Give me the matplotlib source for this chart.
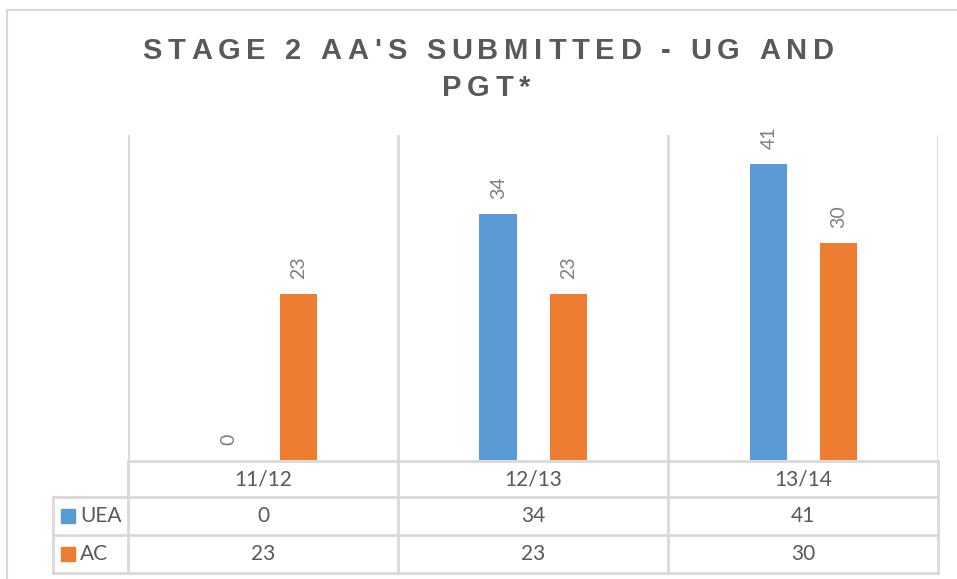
import matplotlib.pyplot as plt
from matplotlib.patches import Rectangle
from matplotlib.font_manager import FontProperties

# data
categories = ["11/12", "12/13", "13/14"]
series = ["UEA", "AC"]
uea = [0, 34, 41]
ac = [23, 23, 30]
title_lines = ["STAGE 2 AA'S SUBMITTED - UG AND", "PGT*"]

colors = {"UEA": "#5B9BD5", "AC": "#ED7D31"}
grid_col = "#D9D9D9"
txt_col = "#595959"
lab_col = "#7F7F7F"

W, H = 957, 579
fig = plt.figure(figsize=(W / 100, H / 100), dpi=100)

# overlay in pixel coords (y down) for frame, title and table
ov = fig.add_axes([0, 0, 1, 1])
ov.set_xlim(0, W)
ov.set_ylim(H, 0)
ov.axis("off")

# chart frame
ov.plot([7, 7, W + 5], [H + 5, 10, 10], color=grid_col, lw=1.5)

# main plot area
left, right, base, top = 128, 938, 460, 135
ax = fig.add_axes([left / W, (H - base) / H, (right - left) / W, (base - top) / H])
ax.set_xlim(-0.5, len(categories) - 0.5)
ax.set_ylim(0, 45)
ax.axis("off")

x = list(range(len(categories)))
bw = 37 / 270
off = 35 / 270
for vals, name, d in [(uea, "UEA", -off), (ac, "AC", off)]:
    xs = [i + d for i in x]
    ax.bar(xs, vals, width=bw, color=colors[name], zorder=3)
    for xi, v in zip(xs, vals):
        ax.annotate(str(v), (xi, v), xytext=(1, 15), textcoords="offset pixels",
                    rotation=90, ha="center", va="bottom", color=lab_col,
                    fontsize=14, family="Lato")

for b in [i - 0.5 for i in range(len(categories) + 1)]:
    ax.axvline(b, color=grid_col, lw=2, zorder=1)

# data table
rows_y = [461, 497, 535, 573]
ov.plot([left, right], [rows_y[0]] * 2, color=grid_col, lw=2)
for yy in rows_y[1:]:
    ov.plot([53, right], [yy, yy], color=grid_col, lw=2)
ov.plot([53, 53], [rows_y[1], rows_y[3]], color=grid_col, lw=2)
cw = (right - left) / len(categories)
for i in range(len(categories) + 1):
    xx = left + i * cw
    ov.plot([xx, xx], [rows_y[0], rows_y[3]], color=grid_col, lw=2)

fs = 15
for i, c in enumerate(categories):
    cx = left + (i + 0.5) * cw
    ov.text(cx, 479, c, ha="center", va="center", color=txt_col, fontsize=fs, family="Lato")
    ov.text(cx, 516, str(uea[i]), ha="center", va="center", color=txt_col, fontsize=fs, family="Lato")
    ov.text(cx, 554, str(ac[i]), ha="center", va="center", color=txt_col, fontsize=fs, family="Lato")

for name, cy in zip(series, [516, 554]):
    ov.add_patch(Rectangle((61, cy - 7), 14, 14, color=colors[name]))
    ov.text(80, cy, name, ha="left", va="center", color=txt_col, fontsize=fs, family="Lato")

# title with letter spacing
renderer = fig.canvas.get_renderer()
tprop = FontProperties(family="Liberation Sans", weight="bold", size=21)
track = 5.7


def spaced(s, cx, cy):
    widths = [renderer.get_text_width_height_descent(ch, tprop, ismath=False)[0] for ch in s]
    total = sum(widths) + track * (len(s) - 1)
    xx = cx - total / 2
    for ch, w in zip(s, widths):
        ov.text(xx, cy, ch, ha="left", va="center", color=txt_col, fontproperties=tprop)
        xx += w + track


spaced(title_lines[0], 488, 51)
spaced(title_lines[1], 486, 88)

plt.savefig("out.png", dpi=100)
